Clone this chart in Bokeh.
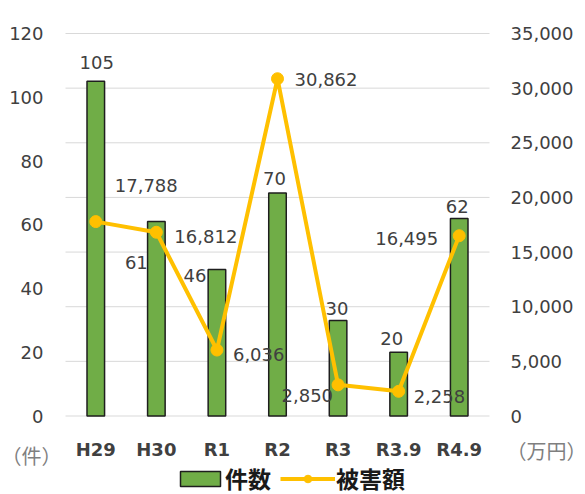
from bokeh.plotting import figure
from bokeh.models import (Range1d, LinearAxis, FixedTicker, NumeralTickFormatter,
                          ColumnDataSource, Legend, LegendItem, Label)
from bokeh.core.properties import value
from bokeh.embed import file_html
from bokeh.resources import INLINE

categories = ["H29", "H30", "R1", "R2", "R3", "R3.9", "R4.9"]
counts = [105, 61, 46, 70, 30, 20, 62]
amounts = [17788, 16812, 6036, 30862, 2850, 2258, 16495]
count_ticks = [0, 20, 40, 60, 80, 100, 120]
amount_ticks = [0, 5000, 10000, 15000, 20000, 25000, 30000, 35000]
count_unit = "（件）"
amount_unit = "（万円）"
legend_labels = ["件数", "被害額"]

# ---- layout (pixels); the plot frame covers the whole canvas ----
W, H = 585, 494
BAND_L, BAND_R, TOP_PX = 65, 489, 33   # category band and the row of the top tick
ZERO_PX = 415.5                         # pixel row of the value 0
n = len(categories)
px_per_cat = (BAND_R - BAND_L) / n
span = ZERO_PX - TOP_PX
count_max, amt_max = count_ticks[-1], amount_ticks[-1]
count_lo = -count_max * (H - ZERO_PX) / span
count_hi = count_max + count_max * TOP_PX / span
amt_lo = -amt_max * (H - ZERO_PX) / span
amt_hi = amt_max + amt_max * TOP_PX / span
x_lo = -BAND_L / px_per_cat
x_hi = n + (W - BAND_R) / px_per_cat

# label placement (screen px offsets, layout only)
count_dx = [1, -20, -22, -3, -1, -7, -2]
count_dy = [-19, 41, 6, -14, -12, -14, -12]
amt_dx = [19, 18, 16, 17, -5, 15, -21]
amt_dy = [-36, 4, 4, 1, 11, 5, 3]
amt_align = ["left", "left", "left", "left", "right", "left", "right"]

FONT = "DejaVu Sans"
CJK = "Noto Sans CJK JP"
TXT = "#404040"
GREEN = "#70AD47"
GOLD = "#FFC000"

xpos = [i + 0.5 for i in range(n)]      # category slot centres
src = ColumnDataSource(dict(
    x=xpos, cat=categories, count=counts, amt=amounts,
    count_txt=[str(c) for c in counts],
    amt_txt=[f"{a:,}" for a in amounts],
    cdx=count_dx, cdy=count_dy, adx=amt_dx, ady=amt_dy, aal=amt_align,
))

p = figure(width=W, height=H, x_range=Range1d(x_lo, x_hi), y_range=Range1d(count_lo, count_hi),
           output_backend="svg", toolbar_location=None,
           min_border_left=0, min_border_right=0, min_border_top=0, min_border_bottom=0)
p.extra_y_ranges = {"amt": Range1d(amt_lo, amt_hi)}
p.outline_line_color = None
p.xgrid.visible = False
p.ygrid.visible = False

# horizontal gridlines at the amount ticks, across the category band
p.segment(x0=0, x1=n, y0=amount_ticks, y1=amount_ticks, y_range_name="amt",
          line_color="#d9d9d9", line_width=1)


def style_axis(ax, standoff, bold=False):
    ax.axis_line_color = None
    ax.major_tick_line_color = None
    ax.minor_tick_line_color = None
    ax.major_tick_out = 0
    ax.major_tick_in = 0
    ax.minor_tick_out = 0
    ax.minor_tick_in = 0
    ax.major_label_standoff = standoff
    ax.major_label_text_font = FONT
    ax.major_label_text_font_size = "18px"
    ax.major_label_text_color = TXT
    if bold:
        ax.major_label_text_font_style = "bold"


# left axis (counts) along the left edge of the category band
ya = p.yaxis[0]
ya.ticker = FixedTicker(ticks=count_ticks)
ya.fixed_location = 0
style_axis(ya, 22)

# right axis (amounts) along the right edge of the band
ra = LinearAxis(y_range_name="amt", ticker=FixedTicker(ticks=amount_ticks),
                formatter=NumeralTickFormatter(format="0,0"), fixed_location=n)
style_axis(ra, 21)
p.add_layout(ra, "right")

# category axis along the value 0
xa = p.xaxis[0]
xa.ticker = FixedTicker(ticks=xpos)
xa.major_label_overrides = {x: c for x, c in zip(xpos, categories)}
xa.fixed_location = 0
style_axis(xa, 23, bold=True)

bars = p.vbar(x="x", top="count", width=0.29, source=src,
              fill_color=GREEN, line_color="#1e1e1e", line_width=1.5)
ln = p.line(x="x", y="amt", y_range_name="amt", source=src,
            line_color=GOLD, line_width=4)
sc = p.scatter(x="x", y="amt", y_range_name="amt", source=src, size=12,
               fill_color=GOLD, line_color=GOLD)

p.text(x="x", y="count", text="count_txt", source=src, x_offset="cdx", y_offset="cdy",
       text_align="center", text_baseline="middle", text_font=value(FONT),
       text_font_size="18px", text_color=TXT)
p.text(x="x", y="amt", text="amt_txt", source=src, y_range_name="amt",
       x_offset="adx", y_offset="ady", text_align="aal", text_baseline="middle",
       text_font=value(FONT), text_font_size="18px", text_color=TXT)

# unit captions
p.add_layout(Label(x=1, y=H - 455, x_units="screen", y_units="screen", text=count_unit,
                   text_font=CJK, text_font_size="20px", text_color="#7f7f7f",
                   text_baseline="middle"))
p.add_layout(Label(x=506, y=H - 450, x_units="screen", y_units="screen", text=amount_unit,
                   text_font=CJK, text_font_size="20px", text_color="#7f7f7f",
                   text_baseline="middle"))

common = dict(padding=0, margin=0, border_line_color=None, background_fill_alpha=0,
              label_text_font=CJK, label_text_font_size="23px",
              label_text_font_style="bold", label_text_color="#1a1a1a")
leg1 = Legend(items=[LegendItem(label=legend_labels[0], renderers=[bars])],
              location=(175, -1), glyph_width=50, glyph_height=19, label_standoff=0, **common)
leg2 = Legend(items=[LegendItem(label=legend_labels[1], renderers=[ln, sc])],
              location=(280, -1), glyph_width=55, glyph_height=19, label_standoff=1, **common)
p.add_layout(leg1)
p.add_layout(leg2)

open("out.html", "w").write(file_html(p, INLINE))
